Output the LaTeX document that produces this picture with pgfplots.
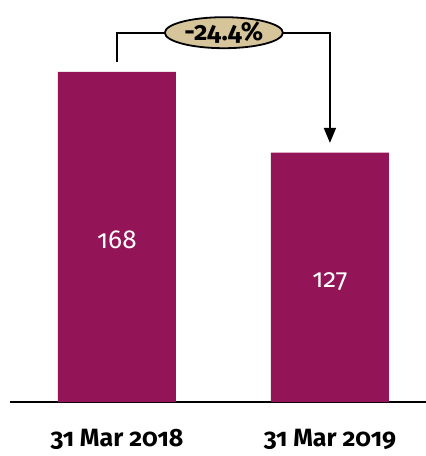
\documentclass[border=0pt]{standalone}
\usepackage{fontspec}
\setmainfont{Fira Sans}[Numbers=OldStyle]
\usepackage{pgfplots}
\pgfplotsset{compat=1.18}
\usetikzlibrary{arrows.meta,shapes.geometric}
\definecolor{barc}{HTML}{931557}
\definecolor{tanc}{HTML}{D6C49A}
\begin{document}
\begin{tikzpicture}
\begin{axis}[at={(0,0)}, anchor=south west, scale only axis,
  width=416bp, height=402bp,
  xmin=-0.502, xmax=1.451, ymin=0, ymax=204.65,
  axis y line=none, axis x line*=bottom,
  x axis line style={line width=1.8bp, -},
  xtick={0,1}, xticklabels={31 Mar 2018, 31 Mar 2019},
  major tick length=0pt,
  xticklabel style={font=\fontsize{25bp}{30bp}\selectfont\bfseries, anchor=base, yshift=-44bp},
  clip=false]
\addplot[ybar, bar width=118bp, fill=barc, draw=none] coordinates {(0,168) (1,127)};
\addplot[draw=none, mark=none, nodes near coords, point meta=explicit symbolic,
  every node near coord/.style={anchor=center, text=white, font=\fontsize{26bp}{31bp}\selectfont}]
  table[meta=l] {
x y l
0 82.5 168
1 61.1 127
};
\draw[line width=1.8bp, -{Triangle[width=12bp,length=15bp]}]
  (axis cs:0,173) |- (axis cs:1,188) -- (axis cs:1,131.9);
\node[ellipse, draw, fill=tanc, line width=1.8bp, minimum width=118bp, minimum height=31bp, inner sep=0pt,
  font=\fontsize{26bp}{31bp}\selectfont\bfseries] at (axis cs:0.502,188) {-24.4\%};
\end{axis}
\pgfresetboundingbox
\path (-10bp,-54bp) rectangle (416bp,402bp);
\end{tikzpicture}
\end{document}
